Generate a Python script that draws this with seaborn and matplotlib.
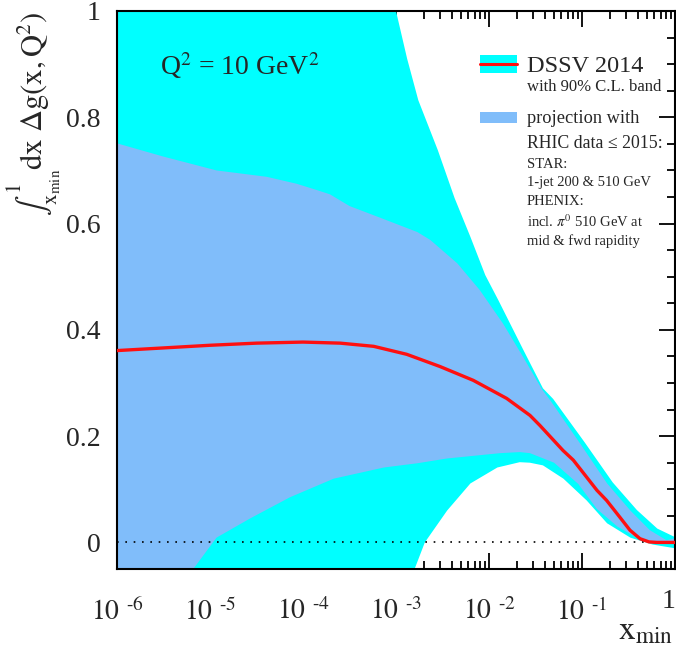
import numpy as np
import pandas as pd
import seaborn as sns
import matplotlib
matplotlib.use("Agg")
import matplotlib.pyplot as plt
from matplotlib.patches import Rectangle
from matplotlib.lines import Line2D
from matplotlib.ticker import FixedLocator, MultipleLocator, NullFormatter

# ---- data: truncated first moment of Delta g vs x_min (log10 x_min, value) ----
central_logx = [-6.0, -5.5, -5.0, -4.5, -4.0, -3.6, -3.24, -2.885, -2.527, -2.169,
                -1.81, -1.559, -1.452, -1.204, -1.094, -0.839, -0.735, -0.591,
                -0.484, -0.376, -0.28, -0.197, 0.0]
central_val = [0.361, 0.366, 0.371, 0.375, 0.377, 0.375, 0.369, 0.354, 0.331, 0.305,
               0.271, 0.239, 0.220, 0.173, 0.155, 0.098, 0.079, 0.047,
               0.023, 0.007, 0.001, 0.0, 0.0]

# DSSV 2014 90% C.L. band
dssv_up_logx = [-6.0, -5.0, -4.0, -3.5, -3.0, -2.88, -2.76, -2.55, -2.37, -2.20,
                -2.04, -1.90, -1.63, -1.42, -1.31, -0.97, -0.67, -0.41, -0.19, 0.0]
dssv_up_val = [2.6, 2.2, 1.7, 1.35, 1.0, 0.91, 0.832, 0.738, 0.648, 0.575,
               0.503, 0.456, 0.362, 0.29, 0.27, 0.188, 0.113, 0.061, 0.026, 0.010]
dssv_lo_logx = [-6.0, -4.0, -3.2, -2.80, -2.69, -2.45, -2.20, -1.91, -1.67, -1.56,
                -1.42, -1.20, -0.95, -0.73, -0.48, -0.24, 0.0]
dssv_lo_val = [-2.0, -0.9, -0.25, -0.05, 0.0, 0.06, 0.111, 0.141, 0.151, 0.150,
               0.145, 0.120, 0.079, 0.036, 0.009, -0.004, -0.011]

# projection with RHIC data <= 2015
proj_up_logx = [-6.0, -5.5, -4.93, -4.39, -4.07, -3.85, -3.71, -3.50, -3.17, -2.77,
                -2.63, -2.34, -2.10, -1.85, -1.63, -1.43, -1.34, -1.02, -0.73,
                -0.48, -0.27, -0.09, 0.0]
proj_up_val = [0.751, 0.726, 0.700, 0.688, 0.675, 0.663, 0.655, 0.633, 0.611, 0.584,
               0.569, 0.525, 0.475, 0.412, 0.348, 0.288, 0.267, 0.186, 0.111,
               0.060, 0.023, 0.004, 0.008]
proj_lo_logx = [-6.0, -5.5, -5.18, -4.93, -4.57, -4.14, -3.67, -3.13, -2.77, -2.45,
                -1.88, -1.67, -1.56, -1.30, -1.04, -0.84, -0.62, -0.38, -0.19, 0.0]
proj_lo_val = [-0.25, -0.13, -0.05, 0.009, 0.045, 0.085, 0.120, 0.141, 0.149, 0.158,
               0.168, 0.170, 0.168, 0.150, 0.110, 0.063, 0.030, 0.006, 0.0, -0.002]

major_x = [1e-6, 1e-5, 1e-4, 1e-3, 1e-2, 1e-1, 1.0]
major_x_labels = [r"$10^{\enspace\text{-6}}$", r"$10^{\enspace\text{-5}}$",
                  r"$10^{\enspace\text{-4}}$", r"$10^{\enspace\text{-3}}$",
                  r"$10^{\enspace\text{-2}}$", r"$10^{\enspace\text{-1}}$", ""]
last_x_label = "1"
major_y = [0, 0.2, 0.4, 0.6, 0.8, 1.0]
major_y_labels = ["0", "0.2", "0.4", "0.6", "0.8", "1"]

CYAN = "#00FFFF"
BLUE = "#80BDFA"
RED = "#FF1010"

sns.set_theme(style="ticks")
plt.rcParams["font.family"] = ["Liberation Serif", "DejaVu Serif"]
plt.rcParams["mathtext.fontset"] = "stix"
plt.rcParams["axes.linewidth"] = 1.5

W, H = 676, 653
fig = plt.figure(figsize=(W / 100, H / 100), dpi=100)
ax = fig.add_axes([117 / W, 1 - 569 / H, (675 - 117) / W, (569 - 11) / H])


def band(ax, xu, yu, xl, yl, color, z):
    xs = np.concatenate([10 ** np.asarray(xu), (10 ** np.asarray(xl))[::-1]])
    ys = np.concatenate([np.asarray(yu), np.asarray(yl)[::-1]])
    ax.fill(xs, ys, color=color, lw=0, zorder=z)


band(ax, dssv_up_logx, dssv_up_val, dssv_lo_logx, dssv_lo_val, CYAN, 1)
band(ax, proj_up_logx, proj_up_val, proj_lo_logx, proj_lo_val, BLUE, 2)

ax.axhline(0, color="black", lw=1.2, ls=(0, (1, 4)), zorder=3)

central = pd.DataFrame({"x": 10 ** np.asarray(central_logx), "val": central_val})
sns.lineplot(data=central, x="x", y="val", ax=ax, color=RED, lw=2.4, zorder=4,
             sort=False, legend=False)

ax.set_xscale("log")
ax.set_xlim(1e-6, 1.0)
ax.set_ylim(-0.05, 1.0)
ax.set_xlabel("")
ax.set_ylabel("")

ax.xaxis.set_major_locator(FixedLocator(major_x))
ax.set_xticklabels(major_x_labels)
# the label of the last decade sits flush with the right edge, a bit higher
ax.text(major_x[-1], -0.036, last_x_label, transform=ax.get_xaxis_transform(),
        ha="right", va="top", fontsize=20, clip_on=False)
minor_x = [m * 10.0 ** e for e in range(-6, 0) for m in range(2, 10)]
ax.xaxis.set_minor_locator(FixedLocator(minor_x))
ax.xaxis.set_minor_formatter(NullFormatter())
ax.yaxis.set_major_locator(FixedLocator(major_y))
ax.set_yticklabels(major_y_labels)
ax.yaxis.set_minor_locator(MultipleLocator(0.05))

ax.tick_params(which="both", direction="in", top=True, right=True,
               color="black", width=1.3)
ax.tick_params(which="major", length=11.5)
ax.tick_params(which="minor", length=5.8)
ax.tick_params(axis="x", which="major", labelsize=20, pad=21)
ax.tick_params(axis="y", which="major", labelsize=20, pad=12)
for s in ax.spines.values():
    s.set_color("black")
    s.set_linewidth(1.5)

# axis titles
fig.text(34 / W, 1 - 114 / H,
         r"$\int_{\mathrm{x_{min}}}^{1}\mathrm{dx}\ \Delta\mathrm{g(x,Q^{2})}$",
         rotation=90, ha="center", va="center", fontsize=22)
fig.text(673 / W, 1 - 647 / H, r"$\mathrm{x_{min}}$", ha="right", va="bottom",
         fontsize=24)

# scale annotation
fig.text(160 / W, 1 - 75 / H, r"Q$^{2}$ = 10 GeV$^{2}$", ha="left",
         va="baseline", fontsize=20)

# legend
fig.patches.append(Rectangle((480 / W, 1 - 73 / H), 37 / W, 18 / H,
                             transform=fig.transFigure, color=CYAN, lw=0))
fig.lines.append(Line2D([480 / W, 517 / W], [1 - 64 / H, 1 - 64 / H],
                        transform=fig.transFigure, color=RED, lw=2.2))
fig.patches.append(Rectangle((480 / W, 1 - 123 / H), 37 / W, 11 / H,
                             transform=fig.transFigure, color=BLUE, lw=0))
legend_lines = [
    ("DSSV 2014", 72, 17.5),
    ("with 90% C.L. band", 91, 12),
    ("projection with", 123, 13.2),
    ("RHIC data \u2264 2015:", 148, 12.8),
    ("STAR:", 168, 10.5),
    ("1-jet 200 & 510 GeV", 186, 10.5),
    ("PHENIX:", 205, 10.5),
    (r"incl. $\pi^{0}$ 510 GeV at", 227, 10.5),
    ("mid & fwd rapidity", 245, 10.5),
]
for txt, yb, fs in legend_lines:
    fig.text(527 / W, 1 - yb / H, txt, ha="left", va="baseline", fontsize=fs)

fig.savefig("out.png", dpi=100)
